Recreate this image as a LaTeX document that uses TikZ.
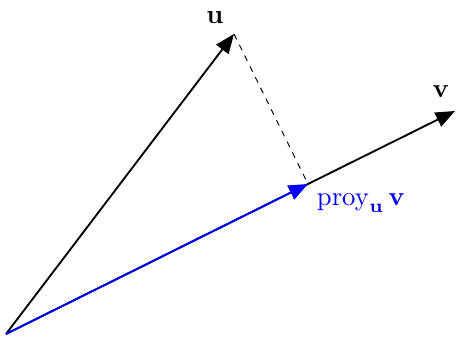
\documentclass[tikz,border=0pt]{standalone}
\usetikzlibrary{arrows.meta}
\begin{document}
\begin{tikzpicture}[x=0.75pt,y=-0.75pt,
  vec/.style={line width=1.4pt,-{Triangle[length=14.5pt,width=11.5pt]}},
  lbl/.style={inner sep=0pt,scale=2,transform shape}]
\useasboundingbox (0,0) rectangle (456,336);
\coordinate (O) at (6,334);
\coordinate (U) at (234,34);
\coordinate (V) at (455,111);
\coordinate (P) at (308,184);
\draw[vec] (O) -- (U);
\draw[vec] (O) -- (V);
\draw[dash pattern=on 4.5pt off 4.5pt,line width=0.7pt] (U) -- (P);
\draw[vec,blue] (O) -- (P);
\node[lbl] (lu) at (215,18) {$\mathbf{u}$};
\node[lbl] (lv) at (441,92) {$\mathbf{v}$};
\node[lbl,blue] (lp) at (361,203) {$\mathrm{proy}_{\mathbf{u}}\,\mathbf{v}$};
\end{tikzpicture}
\end{document}
